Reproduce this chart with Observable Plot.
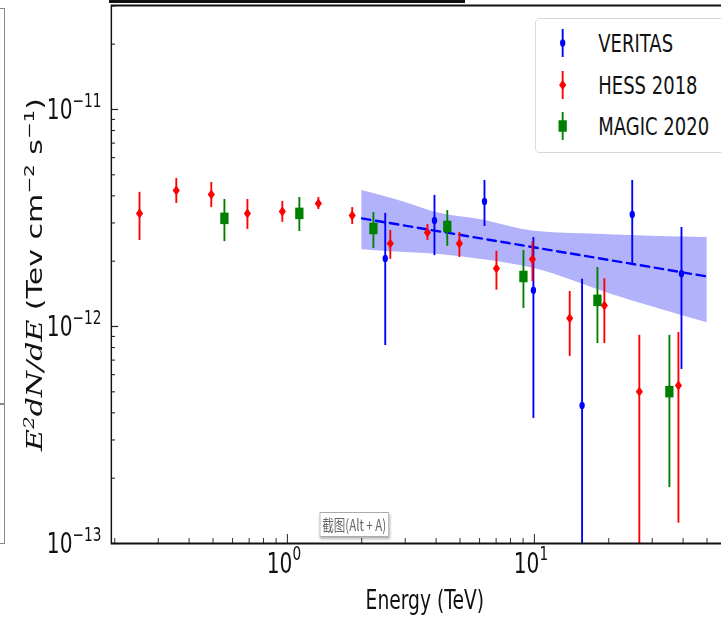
<!DOCTYPE html>
<html><head><meta charset="utf-8">
<script src="https://cdn.jsdelivr.net/npm/d3@7"></script>
<script src="https://cdn.jsdelivr.net/npm/@observablehq/plot@0.6"></script>
<style>
html,body{margin:0;padding:0;background:#fff;}
#outer{position:relative;width:721px;height:619px;overflow:hidden;background:#fff;}
#wrap{position:absolute;left:0;top:0;width:1025px;height:619px;transform:scaleX(0.72);transform-origin:0 0;}
#wrap svg{position:absolute;left:0;top:0;}
#legend{position:absolute;left:743px;top:18px;width:400px;height:133px;border:1.5px solid #cfcfcf;border-radius:6px;background:#fff;}
#legend svg{position:absolute;left:0;top:0;}
#tip{position:absolute;left:444px;top:512px;width:94px;height:23px;border:1px solid #aaa;background:#fff;box-shadow:1px 2px 3px rgba(0,0,0,0.3);font:16px "Noto Sans CJK SC",sans-serif;color:#666;line-height:23px;text-align:center;white-space:nowrap;}
.art{position:absolute;}
</style></head><body>
<div id="outer">
  <div class="art" style="left:0;top:8px;width:4px;height:534px;border-top:1.5px solid #888;border-right:1.5px solid #888;border-bottom:1.5px solid #888;"></div>
  <div class="art" style="left:0;top:403px;width:5px;height:1.5px;background:#888;"></div>
  <div class="art" style="left:109px;top:0;width:356px;height:3px;background:#111;"></div>
  <div id="wrap"></div>
</div>
<script>
// ---------------- data ----------------
const seriesNames = ["VERITAS", "HESS 2018", "MAGIC 2020"];

const veritasE  = [2.49, 3.94, 6.28, 9.91, 15.6, 24.9, 39.4];
const veritasF  = [2.06e-12, 3.08e-12, 3.77e-12, 1.47e-12, 4.33e-13, 3.28e-12, 1.75e-12];
const veritasHi = [3.32e-12, 4.02e-12, 4.71e-12, 2.57e-12, 1.65e-12, 4.71e-12, 2.86e-12];
const veritasLo = [8.17e-13, 2.12e-12, 2.89e-12, 3.77e-13, 5.0e-14, 1.91e-12, 6.34e-13];

const hessE  = [0.252, 0.355, 0.492, 0.689, 0.954, 1.335, 1.83, 2.61, 3.69, 4.97, 7.02, 9.82, 13.9, 19.2, 26.6, 38.3];
const hessF  = [3.32e-12, 4.23e-12, 4.06e-12, 3.32e-12, 3.39e-12, 3.69e-12, 3.25e-12, 2.41e-12, 2.71e-12, 2.41e-12, 1.85e-12, 2.04e-12, 1.09e-12, 1.25e-12, 5.01e-13, 5.35e-13];
const hessHi = [4.15e-12, 4.81e-12, 4.61e-12, 3.85e-12, 3.77e-12, 3.93e-12, 3.53e-12, 2.77e-12, 2.95e-12, 2.71e-12, 2.22e-12, 2.46e-12, 1.45e-12, 1.66e-12, 9.1e-13, 9.38e-13];
const hessLo = [2.49e-12, 3.69e-12, 3.53e-12, 2.80e-12, 3.02e-12, 3.46e-12, 2.95e-12, 2.04e-12, 2.49e-12, 2.08e-12, 1.47e-12, 1.61e-12, 7.28e-13, 8.35e-13, 8.0e-14, 1.24e-13];

const magicE  = [0.556, 1.118, 2.23, 4.44, 9.03, 18.0, 35.2];
const magicF  = [3.15e-12, 3.32e-12, 2.83e-12, 2.89e-12, 1.70e-12, 1.32e-12, 5.01e-13];
const magicHi = [3.85e-12, 3.93e-12, 3.35e-12, 3.42e-12, 2.24e-12, 1.87e-12, 9.1e-13];
const magicLo = [2.46e-12, 2.74e-12, 2.29e-12, 2.34e-12, 1.21e-12, 8.35e-13, 1.81e-13];

// power-law fit and its uncertainty band
const fitE = [2, 50];
const fitF = [3.15e-12, 1.70e-12];
const bandE  = [2, 3, 4, 6, 10, 20, 50];
const bandHi = [4.23e-12, 3.73e-12, 3.35e-12, 3.11e-12, 2.75e-12, 2.65e-12, 2.57e-12];
const bandLo = [2.26e-12, 2.19e-12, 2.15e-12, 2.04e-12, 1.85e-12, 1.42e-12, 1.04e-12];

// axis ticks
const xMajorTicks = [1, 10];
const xTickExp = ["0", "1"];
const xMinorTicks = [0.2, 0.3, 0.4, 0.5, 0.6, 0.7, 0.8, 0.9, 2, 3, 4, 5, 6, 7, 8, 9, 20, 30, 40, 50, 60];
const yMajorTicks = [1e-13, 1e-12, 1e-11];
const yTickExp = ["\u221213", "\u221212", "\u221211"];
const yMinorTicks = [2e-13, 3e-13, 4e-13, 5e-13, 6e-13, 7e-13, 8e-13, 9e-13, 2e-12, 3e-12, 4e-12, 5e-12, 6e-12, 7e-12, 8e-12, 9e-12, 2e-11, 3e-11];
const xLabel = "Energy (TeV)";

// ---------------- style ----------------
const colors = ["#0000ff", "#ff0000", "#008000"];
const symbols = ["circle", "diamond2", "square"];
const radii = [3.7, 4.5, 6.5];
const K = 0.72;
const W = 1025, H = 619;
const mL = 111 / K, mR = 0, mT = 5, mB = 76;
const frameW = W - mL - mR, frameH = H - mT - mB;

const mk = (E, F, Hi, Lo) => E.map((e, i) => ({E: e, F: F[i], hi: Hi[i], lo: Lo[i]}));
const sets = [mk(veritasE, veritasF, veritasHi, veritasLo), mk(hessE, hessF, hessHi, hessLo), mk(magicE, magicF, magicHi, magicLo)];
const band = bandE.map((e, i) => ({E: e, hi: bandHi[i], lo: bandLo[i]}));
const fit = fitE.map((e, i) => ({E: e, F: fitF[i]}));

const seriesMarks = [];
sets.forEach((d, s) => {
  seriesMarks.push(Plot.ruleX(d, {x: "E", y1: "lo", y2: "hi", stroke: colors[s], strokeWidth: 2.6, clip: true}));
  seriesMarks.push(Plot.dot(d, {x: "E", y: "F", symbol: symbols[s], r: radii[s], fill: colors[s], stroke: "none", clip: true}));
});

const chart = Plot.plot({
  width: W, height: H,
  marginLeft: mL, marginRight: mR, marginTop: mT, marginBottom: mB,
  style: {background: "transparent", fontFamily: "DejaVu Sans", color: "#000"},
  x: {type: "log", domain: [0.1938, 66.96], axis: null},
  y: {type: "log", domain: [1e-13, 3.014e-11], axis: null},
  marks: [
    Plot.areaY(band, {x: "E", y1: "lo", y2: "hi", fill: "#b2b2fb", curve: "monotone-x"}),
    Plot.line(fit, {x: "E", y: "F", stroke: "#0000ff", strokeWidth: 2.4, strokeDasharray: "12.5,7"}),
    ...seriesMarks,
    Plot.tickX(xMajorTicks, {x: d => d, insetTop: frameH - 9, stroke: "#222", strokeWidth: 1.4}),
    Plot.tickX(xMinorTicks, {x: d => d, insetTop: frameH - 5, stroke: "#222", strokeWidth: 1.3}),
    Plot.tickY(yMajorTicks, {y: d => d, insetRight: frameW - 10, stroke: "#222", strokeWidth: 1.2}),
    Plot.tickY(yMinorTicks, {y: d => d, insetRight: frameW - 5.5, stroke: "#222", strokeWidth: 1.1}),
    Plot.frame({stroke: "#111", strokeWidth: 2}),
    Plot.text(yMajorTicks, {y: d => d, text: () => "10", frameAnchor: "left", textAnchor: "end", lineAnchor: "middle", dx: -54, dy: 1, fontSize: 28, fill: "#111"}),
    Plot.text(yMajorTicks, {y: d => d, text: (d, i) => yTickExp[i], frameAnchor: "left", textAnchor: "start", lineAnchor: "middle", dx: -54, dy: -9, fontSize: 19, fill: "#111"}),
    Plot.text(xMajorTicks, {x: d => d, text: () => "10", frameAnchor: "bottom", textAnchor: "end", lineAnchor: "middle", dx: 7, dy: 21, fontSize: 28, fill: "#111"}),
    Plot.text(xMajorTicks, {x: d => d, text: (d, i) => xTickExp[i], frameAnchor: "bottom", textAnchor: "start", lineAnchor: "middle", dx: 7, dy: 10, fontSize: 19, fill: "#111"}),
    Plot.text([xLabel], {frameAnchor: "bottom", textAnchor: "middle", lineAnchor: "middle", dy: 57, fontSize: 26, fill: "#111"}),
    Plot.text(["ylabel"], {frameAnchor: "left", textAnchor: "middle", lineAnchor: "middle", rotate: -90, dx: -106, fontSize: 30, fill: "#111", className: "ylab"})
  ]
});

document.getElementById("wrap").appendChild(chart);

// rich y label
const yl = d3.select(chart).select(".ylab text");
yl.text(null);
const parts = [
  {t: "E", it: true}, {t: "2", sup: true, it: true}, {t: "dN/dE", it: true},
  {t: " (Tev cm"}, {t: "\u22122", sup: true}, {t: " s"}, {t: "\u22121", sup: true}, {t: ")"}
];
let raised = false;
parts.forEach(p => {
  const ts = yl.append("tspan").text(p.t);
  if (p.it) ts.attr("font-family", "DejaVu Serif").attr("font-style", "italic");
  if (p.sup && !raised) { ts.attr("dy", -11).attr("font-size", 20); raised = true; }
  else if (p.sup) { ts.attr("font-size", 20); }
  else if (raised) { ts.attr("dy", 11); raised = false; }
});

// legend
const leg = d3.select("#wrap").append("div").attr("id", "legend");
const ls = leg.append("svg").attr("width", 400).attr("height", 133);
const symMap = {circle: d3.symbolCircle, diamond2: d3.symbolDiamond2, square: d3.symbolSquare};
const rowY = [24, 66, 107];
seriesNames.forEach((name, i) => {
  const g = ls.append("g").attr("transform", `translate(37.5,${rowY[i]})`);
  g.append("line").attr("y1", -14).attr("y2", 14).attr("stroke", colors[i]).attr("stroke-width", 2.6);
  g.append("path").attr("d", d3.symbol(symMap[symbols[i]], Math.PI * radii[i] * radii[i])()).attr("fill", colors[i]);
  ls.append("text").attr("x", 87).attr("y", rowY[i]).attr("dy", "0.35em")
    .attr("font-family", "DejaVu Sans").attr("font-size", 25).attr("fill", "#111").text(name);
});

// screenshot tooltip
d3.select("#wrap").append("div").attr("id", "tip").text("截图(Alt + A)");
</script>
</body></html>
